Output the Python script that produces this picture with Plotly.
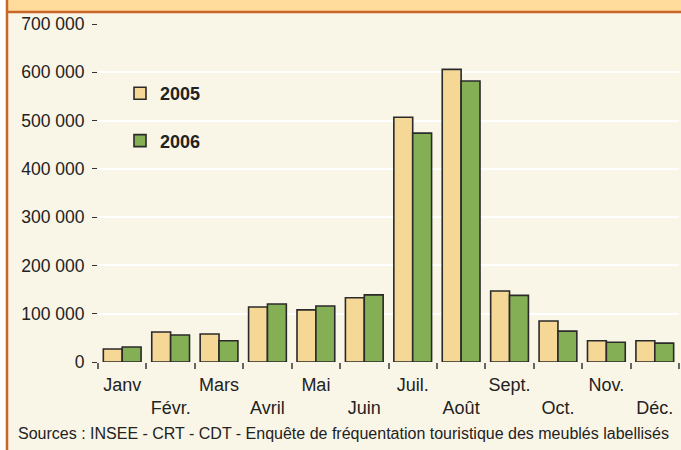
import plotly.graph_objects as go

months = ["Janv", "Févr.", "Mars", "Avril", "Mai", "Juin",
          "Juil.", "Août", "Sept.", "Oct.", "Nov.", "Déc."]
v2005 = [27000, 62000, 58000, 114000, 108000, 133000,
         507000, 606000, 147000, 85000, 44000, 44000]
v2006 = [31000, 56000, 44000, 120000, 116000, 139000,
         474000, 582000, 138000, 64000, 41000, 39000]
ytickvals = [0, 100000, 200000, 300000, 400000, 500000, 600000, 700000]
yticktext = ["0", "100 000", "200 000", "300 000", "400 000",
             "500 000", "600 000", "700 000"]
source = "Sources : INSEE - CRT - CDT - Enquête de fréquentation touristique des meublés labellisés"

FONT = "Liberation Sans, Arial, Helvetica, sans-serif"
ORANGE = "#C8662A"

# staggered month labels (even months on a second row)
ticktext = [m if i % 2 == 0 else "<br>" + m for i, m in enumerate(months)]

fig = go.Figure()
fig.add_trace(go.Bar(x=months, y=v2005, name="2005", legendgroup="a",
                     marker=dict(color="#F6D896", line=dict(color="#2a2a2a", width=1.6))))
fig.add_trace(go.Bar(x=months, y=v2006, name="2006", legendgroup="b",
                     marker=dict(color="#84AF55", line=dict(color="#2a2a2a", width=1.6))))

W, H = 681, 450
L, R, T, B = 98, 2, 24, 88
pw, ph = W - L - R, H - T - B

def px_x(x):
    return (x - L) / pw

def px_y(y):
    return (H - B - y) / ph

shapes = [
    dict(type="rect", xref="paper", yref="paper", layer="below",
         x0=px_x(7), x1=px_x(W + 5), y0=px_y(H + 5), y1=px_y(12),
         fillcolor="#FAF6E7", line=dict(width=0)),
    dict(type="rect", xref="paper", yref="paper", layer="below",
         x0=px_x(7), x1=px_x(W + 5), y0=px_y(12), y1=px_y(-5),
         fillcolor="#FFDB9C", line=dict(width=0)),
    dict(type="line", xref="paper", yref="paper", layer="below",
         x0=px_x(7), x1=px_x(W + 5), y0=px_y(12), y1=px_y(12),
         line=dict(color=ORANGE, width=2.5)),
    dict(type="line", xref="paper", yref="paper", layer="below",
         x0=px_x(7), x1=px_x(7), y0=px_y(H + 5), y1=px_y(-5),
         line=dict(color=ORANGE, width=2.5)),
]

fig.update_layout(
    width=W, height=H,
    margin=dict(l=L, r=R, t=T, b=B, autoexpand=False),
    paper_bgcolor="white",
    plot_bgcolor="#F3E9BC",
    barmode="group",
    bargap=0.22,
    bargroupgap=0,
    font=dict(family=FONT, size=18, color="#222222"),
    shapes=shapes,
    legend=dict(x=px_x(120), y=px_y(75), xanchor="left", yanchor="top",
                bgcolor="rgba(0,0,0,0)", traceorder="grouped",
                tracegroupgap=21,
                font=dict(family=FONT, size=18, color="#222222", weight="bold")),
    annotations=[dict(text=source, xref="paper", yref="paper",
                      x=px_x(16), y=px_y(433), xanchor="left", yanchor="middle",
                      showarrow=False,
                      font=dict(family=FONT, size=16, color="#222222"))],
)
fig.update_xaxes(
    tickmode="array", tickvals=months, ticktext=ticktext, tickangle=0,
    tickson="boundaries", ticks="outside", ticklen=6, tickwidth=1.5,
    tickcolor="#666666", showgrid=False, showline=False, zeroline=False,
    tickfont=dict(family=FONT, size=18, color="#222222"),
    ticklabelstandoff=10, automargin=False,
)
fig.update_yaxes(
    range=[0, 700000], tickvals=ytickvals, ticktext=yticktext,
    ticks="outside", ticklen=5, tickwidth=1.2, tickcolor="#333333",
    showgrid=True, gridcolor="white", gridwidth=2, zeroline=False,
    showline=False, ticklabelstandoff=4, automargin=False,
    tickfont=dict(family=FONT, size=17.5, color="#222222"),
)

fig.write_html("out.html",
               config={"displayModeBar": False},
               post_script="document.body.style.margin='0';document.body.style.overflow='hidden';")
